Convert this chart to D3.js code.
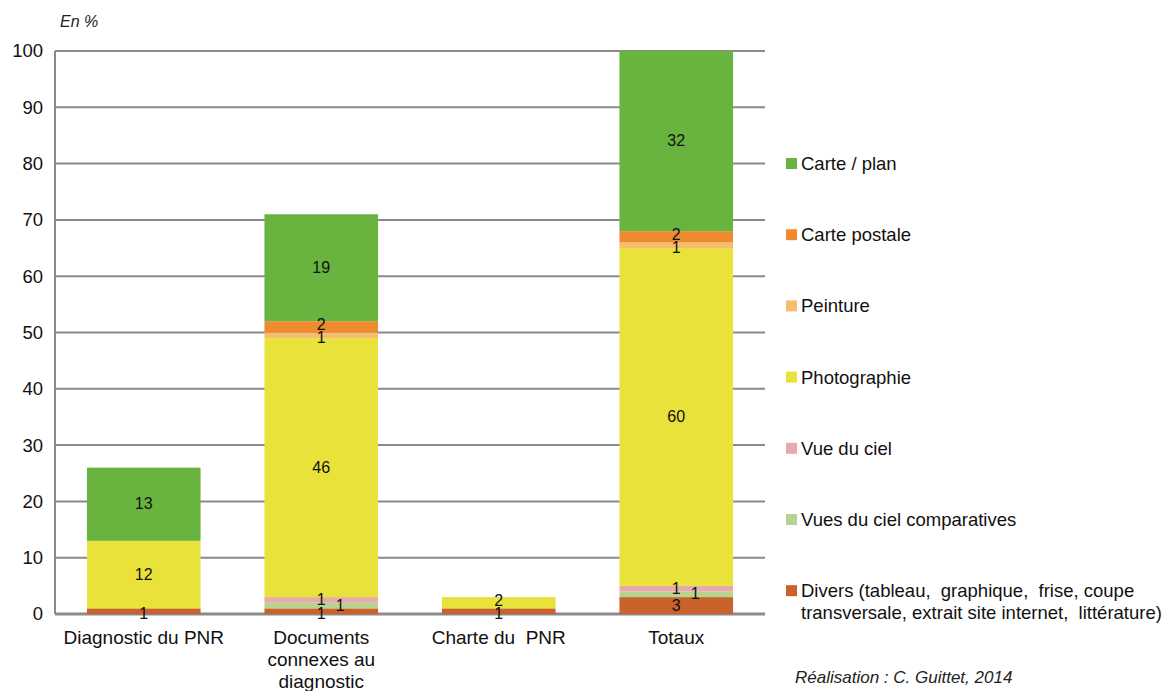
<!DOCTYPE html>
<html>
<head>
<meta charset="utf-8">
<script src="https://cdn.jsdelivr.net/npm/d3@7"></script>
<style>
  body { margin: 0; background: #fff; }
  svg { font-family: "Liberation Sans", Arial, sans-serif; }
  text { white-space: pre; }
</style>
</head>
<body>
<svg width="1166" height="691"></svg>
<script>
// catégories (axe x) et séries empilées, de bas en haut
const categories = ['Diagnostic du PNR', 'Documents connexes au diagnostic', 'Charte du PNR', 'Totaux']
const categoryLines = [['Diagnostic du PNR'], ['Documents', 'connexes au', 'diagnostic'], ['Charte du  PNR'], ['Totaux']]
const seriesNames = ['Divers', 'Vues du ciel comparatives', 'Vue du ciel', 'Photographie', 'Peinture', 'Carte postale', 'Carte / plan']
const divers = [1, 1, 1, 3]
const vuesCielComparatives = [0, 1, 0, 1]
const vueCiel = [0, 1, 0, 1]
const photographie = [12, 46, 2, 60]
const peinture = [0, 1, 0, 1]
const cartePostale = [0, 2, 0, 2]
const cartePlan = [13, 19, 0, 32]
const yTicks = [0, 10, 20, 30, 40, 50, 60, 70, 80, 90, 100]
const legendLabels = [
  ['Carte / plan'], ['Carte postale'], ['Peinture'], ['Photographie'],
  ['Vue du ciel'], ['Vues du ciel comparatives'],
  ['Divers (tableau,  graphique,  frise, coupe', 'transversale, extrait site internet,  littérature)']
]

const colors = ['#c9632b', '#b6d38f', '#e7aaa8', '#e8e23b', '#f6bd6c', '#ef8a2f', '#69b33f']
const seriesValues = [divers, vuesCielComparatives, vueCiel, photographie, peinture, cartePostale, cartePlan]

const svg = d3.select('svg')

// zone de tracé
const plotLeft = 55, plotRight = 765, plotTop = 51, plotBottom = 614

const x = d3.scaleBand().domain(categories).range([plotLeft, plotRight]).paddingInner(0.36).paddingOuter(0.18)
const y = d3.scaleLinear().domain([0, 100]).range([plotBottom, plotTop])

// table pour d3.stack
const table = categories.map((c, i) => {
  const row = { cat: c }
  seriesNames.forEach((s, j) => { row[s] = seriesValues[j][i] })
  return row
})
const stacked = d3.stack().keys(seriesNames)(table)

// grille horizontale
svg.append('g')
  .selectAll('line')
  .data(yTicks)
  .join('line')
  .attr('x1', plotLeft).attr('x2', plotRight)
  .attr('y1', d => y(d)).attr('y2', d => y(d))
  .attr('stroke', '#8a8a8a')
  .attr('stroke-width', d => d === 0 ? 3 : 2)

// axe vertical
svg.append('line')
  .attr('x1', plotLeft).attr('x2', plotLeft)
  .attr('y1', y(100)).attr('y2', y(0))
  .attr('stroke', '#8a8a8a').attr('stroke-width', 2)

// graduations y
const yAxis = d3.axisLeft(y).tickValues(yTicks).tickSize(0).tickPadding(12)
const gy = svg.append('g').attr('transform', `translate(${plotLeft},0)`).call(yAxis)
gy.select('.domain').remove()
gy.selectAll('text').attr('font-size', 18.5).attr('fill', '#111').attr('font-family', '"Liberation Sans", Arial, sans-serif')

// barres
svg.append('g')
  .selectAll('g')
  .data(stacked)
  .join('g')
  .attr('fill', (d, i) => colors[i])
  .selectAll('rect')
  .data(d => d)
  .join('rect')
  .attr('x', d => x(d.data.cat))
  .attr('y', d => y(d[1]))
  .attr('width', x.bandwidth())
  .attr('height', d => y(d[0]) - y(d[1]))

// étiquettes de valeurs (petits segments légèrement décalés)
const labels = []
stacked.forEach((s, j) => {
  s.forEach(d => {
    const v = d[1] - d[0]
    if (v > 0) labels.push({ v, j, cat: d.data.cat, mid: (d[0] + d[1]) / 2 })
  })
})
const dxLabel = j => j === 1 ? 19 : 0
const dyLabel = (d) => {
  if (d.j === 5) return -2
  if (d.j === 4) return 3
  if (d.j === 3 && d.v <= 2) return -2
  if (d.j === 0 && d.v === 1) return 3
  return 0
}
svg.append('g')
  .selectAll('text')
  .data(labels)
  .join('text')
  .attr('x', d => x(d.cat) + x.bandwidth() / 2 + dxLabel(d.j))
  .attr('y', d => y(d.mid) + 5 + dyLabel(d))
  .attr('text-anchor', 'middle')
  .attr('font-size', 16)
  .attr('fill', '#111')
  .text(d => d.v)

// étiquettes de catégories
categoryLines.forEach((lines, i) => {
  const t = svg.append('text')
    .attr('x', x(categories[i]) + x.bandwidth() / 2)
    .attr('y', plotBottom + 30)
    .attr('text-anchor', 'middle')
    .attr('font-size', 19)
    .attr('fill', '#111')
  lines.forEach((l, k) => {
    t.append('tspan').attr('x', x(categories[i]) + x.bandwidth() / 2).attr('dy', k === 0 ? 0 : 22).text(l)
  })
})

// légende (du haut vers le bas : Carte / plan ... Divers)
const legendColors = colors.slice().reverse()
const legend = svg.append('g').attr('transform', 'translate(785,0)')
legendLabels.forEach((lines, i) => {
  const yy = 164 + i * 71.2
  legend.append('rect').attr('x', 1).attr('y', yy - 6).attr('width', 11).attr('height', 11).attr('fill', legendColors[i])
  const t = legend.append('text').attr('x', 16).attr('y', yy + 6).attr('font-size', 18.5).attr('fill', '#111')
  lines.forEach((l, k) => {
    t.append('tspan').attr('x', 16).attr('dy', k === 0 ? 0 : 22).text(l)
  })
})

// unité et source
svg.append('text').attr('x', 60).attr('y', 27).attr('font-size', 16).attr('font-style', 'italic').attr('fill', '#222').text('En %')
svg.append('text').attr('x', 795).attr('y', 683).attr('font-size', 17).attr('font-style', 'italic').attr('fill', '#222').text('Réalisation : C. Guittet, 2014')
</script>
</body>
</html>
